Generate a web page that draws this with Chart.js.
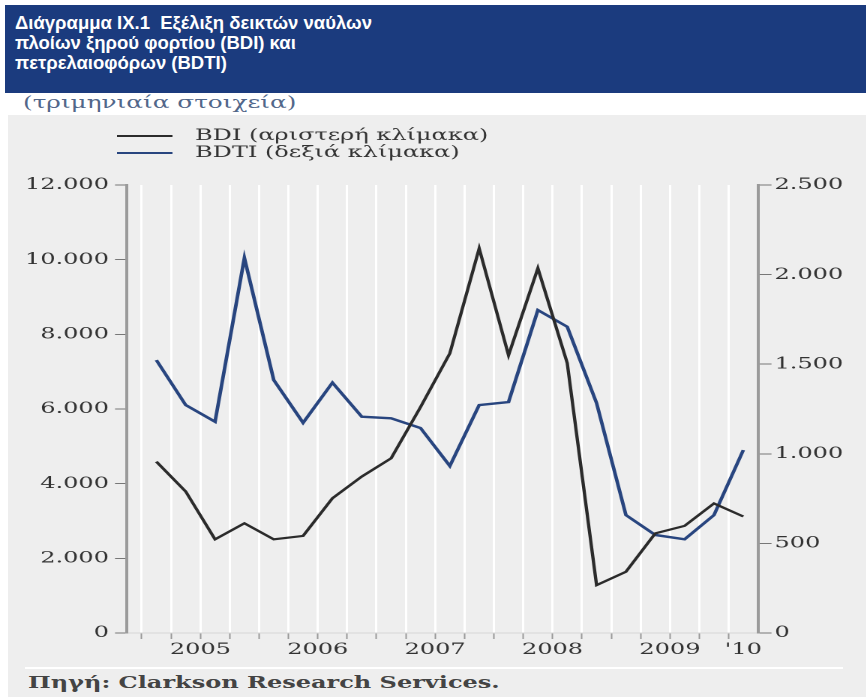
<!DOCTYPE html>
<html>
<head>
<meta charset="utf-8">
<script src="https://cdn.jsdelivr.net/npm/chart.js@4"></script>
<style>
  html, body { margin: 0; padding: 0; background: #fff; }
  body { width: 866px; height: 697px; position: relative; overflow: hidden; }
  #banner { position: absolute; left: 5px; top: 5px; width: 861px; height: 88px; background: #1b3b7e; }
  #title { position: absolute; left: 10px; top: 8px; color: #fff; font: bold 18.5px 'Liberation Sans', Arial, sans-serif; line-height: 20px; }
  #sub { position: absolute; left: 23px; top: 93px; color: #52678a; font: 16.5px 'DejaVu Serif', serif; transform: scaleX(1.5); transform-origin: 0 0; white-space: nowrap; }
  #gray { position: absolute; left: 8px; top: 115px; width: 858px; height: 582px; background: #eeeeee; }
  #wrap { position: absolute; left: 0; top: 115px; width: 578px; height: 545px; transform: scaleX(1.5); transform-origin: 0 0; }
  #rule { position: absolute; left: 25px; top: 667px; width: 818px; height: 2px; background: #fff; }
  #src { position: absolute; left: 28px; top: 673px; color: #444; font: bold 16px 'DejaVu Serif', serif; transform: scaleX(1.5); transform-origin: 0 0; white-space: nowrap; }
</style>
</head>
<body>
<div id="banner"><div id="title">Διάγραμμα IX.1&nbsp; Εξέλιξη δεικτών ναύλων<br>πλοίων ξηρού φορτίου (BDI) και<br>πετρελαιοφόρων (BDTI)</div></div>
<div id="sub">(τριμηνιαία στοιχεία)</div>
<div id="gray"></div>
<div id="wrap"><canvas id="chart"></canvas></div>
<div id="rule"></div>
<div id="src">Πηγή: Clarkson Research Services.</div>
<script>
// quarterly data, 2005 Q1 - 2010 Q1
const quarters = ['2005Q1','2005Q2','2005Q3','2005Q4','2006Q1','2006Q2','2006Q3','2006Q4',
  '2007Q1','2007Q2','2007Q3','2007Q4','2008Q1','2008Q2','2008Q3','2008Q4',
  '2009Q1','2009Q2','2009Q3','2009Q4','2010Q1'];
const bdi = [4590, 3790, 2510, 2940, 2510, 2600, 3610, 4190, 4680, 6050, 7490, 10300,
  7440, 9770, 7230, 1280, 1640, 2670, 2870, 3470, 3120];
const bdti = [1523, 1272, 1179, 2093, 1412, 1173, 1397, 1207, 1198, 1144, 932, 1272,
  1289, 1802, 1709, 1283, 658, 547, 523, 658, 1021];
const years = ['2005', '2006', '2007', '2008', '2009', '2010'];
const yearText = ['2005', '2006', '2007', '2008', '2009', "'10"];
const labels = ['BDI (αριστερή κλίμακα)', 'BDTI (δεξιά κλίμακα)'];

const fmt = v => String(v).replace(/\B(?=(\d{3})+(?!\d))/g, '.');

// label position = middle of each year's quarters
const yearPos = years.map(y => {
  const idx = quarters.map((q, i) => q.startsWith(y) ? i : -1).filter(i => i >= 0);
  return idx.reduce((a, b) => a + b, 0) / idx.length;
});
const bounds = quarters.map((q, i) => i - 0.5);

const sideLegend = {
  id: 'sideLegend',
  afterDraw(chart) {
    const ctx = chart.ctx;
    chart.data.datasets.forEach((ds, i) => {
      const y = 21 + i * 17;
      ctx.save();
      ctx.strokeStyle = ds.borderColor;
      ctx.lineWidth = 2;
      ctx.beginPath();
      ctx.moveTo(78, y);
      ctx.lineTo(115, y);
      ctx.stroke();
      ctx.fillStyle = '#333';
      ctx.font = "16px 'DejaVu Serif'";
      ctx.textBaseline = 'middle';
      ctx.fillText(ds.label, 130, y);
      ctx.restore();
    });
  }
};

const serif = { family: "'DejaVu Serif', serif", size: 16 };

new Chart(document.getElementById('chart'), {
  type: 'line',
  data: {
    datasets: [{
      label: labels[0],
      data: bdi.map((v, i) => ({ x: i, y: v })),
      borderColor: '#2b2b2b',
      borderWidth: 2.2,
      pointRadius: 0,
      tension: 0,
      yAxisID: 'y'
    }, {
      label: labels[1],
      data: bdti.map((v, i) => ({ x: i, y: v })),
      borderColor: '#28457f',
      borderWidth: 2.4,
      pointRadius: 0,
      tension: 0,
      yAxisID: 'y1'
    }]
  },
  options: {
    responsive: true,
    maintainAspectRatio: false,
    devicePixelRatio: 2,
    animation: false,
    layout: { padding: { top: 70, left: 0, right: 0, bottom: 0 } },
    plugins: {
      legend: { display: false },
      tooltip: { enabled: false }
    },
    scales: {
      x: {
        type: 'linear',
        min: -1,
        max: 20.5,
        afterBuildTicks: s => {
          s.ticks = bounds.concat([quarters.length - 1]).map(v => ({ value: v }));
        },
        afterFit: s => { s.height = 27; },
        ticks: {
          autoSkip: false,
          maxRotation: 0,
          padding: 1,
          color: '#333',
          font: serif,
          callback: v => {
            const k = yearPos.indexOf(v);
            return k >= 0 ? yearText[k] : '';
          }
        },
        grid: {
          color: c => (c.tick && c.tick.value === quarters.length - 1) ? 'rgba(0,0,0,0)' : '#ffffff',
          tickColor: c => (c.tick && c.tick.value === quarters.length - 1) ? 'rgba(0,0,0,0)' : '#999',
          lineWidth: 1.5,
          tickWidth: 1,
          tickLength: 6
        },
        border: { color: '#d6d6d6', width: 1 }
      },
      y: {
        position: 'left',
        min: 0,
        max: 12000,
        afterFit: s => { s.width = 84.67; },
        ticks: { stepSize: 2000, color: '#333', font: serif, padding: 4, callback: v => fmt(v) },
        grid: { drawOnChartArea: false, color: '#777', tickLength: 8 },
        border: { color: '#9a9a9a', width: 2 }
      },
      y1: {
        position: 'right',
        min: 0,
        max: 2500,
        afterFit: s => { s.width = 72.67; },
        ticks: { stepSize: 500, color: '#333', font: serif, padding: 2, callback: v => fmt(v) },
        grid: { drawOnChartArea: false, color: '#777', tickLength: 9 },
        border: { color: '#9a9a9a', width: 2 }
      }
    }
  },
  plugins: [sideLegend]
});
</script>
</body>
</html>
